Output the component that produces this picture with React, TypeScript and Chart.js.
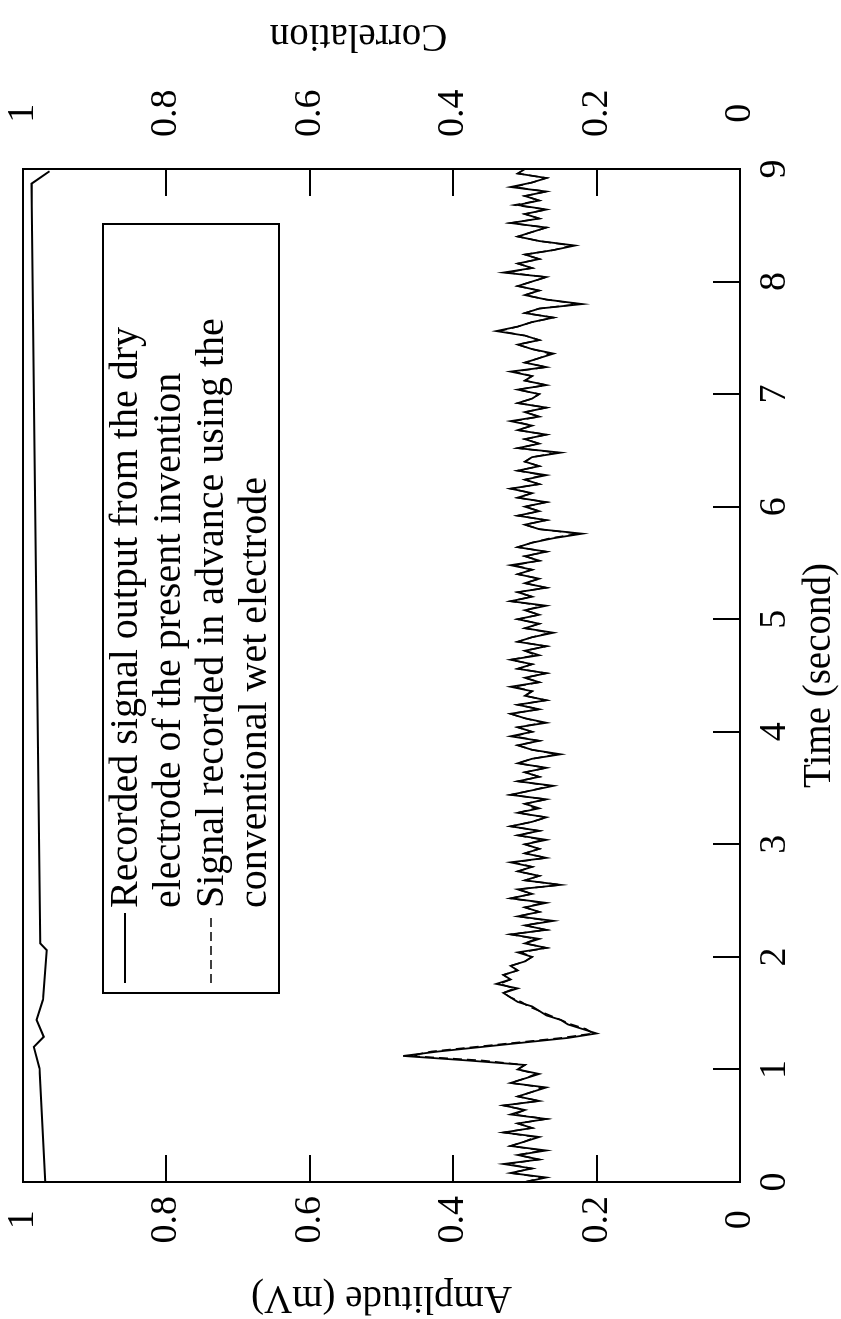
import { useEffect, useRef } from "react";
import { Chart, registerables } from "chart.js";

Chart.register(...registerables);

const FONT = '"Liberation Serif", "Times New Roman", serif';

// seconds between successive samples of both recorded signals
const SAMPLE_STEP = 0.04;

// Recorded signal output from the dry electrode (mV), one row per second
const DRY_SIGNAL = [
  0.30, 0.27, 0.32, 0.29, 0.33, 0.28, 0.31, 0.27, 0.32, 0.30, 0.28, 0.33, 0.29, 0.31, 0.27, 0.32, 0.30, 0.33, 0.28, 0.31, 0.29, 0.27, 0.32, 0.30, 0.28,
  0.31, 0.30, 0.38, 0.47, 0.42, 0.36, 0.30, 0.24, 0.20, 0.22, 0.24, 0.25, 0.27, 0.28, 0.29, 0.31, 0.32, 0.33, 0.31, 0.34, 0.32, 0.33, 0.31, 0.32, 0.30,
  0.29, 0.31, 0.27, 0.30, 0.28, 0.32, 0.27, 0.30, 0.26, 0.31, 0.28, 0.30, 0.27, 0.32, 0.29, 0.31, 0.25, 0.30, 0.28, 0.31, 0.29, 0.32, 0.27, 0.30, 0.28,
  0.30, 0.27, 0.31, 0.28, 0.32, 0.29, 0.27, 0.31, 0.28, 0.30, 0.27, 0.32, 0.29, 0.26, 0.31, 0.28, 0.30, 0.27, 0.31, 0.29, 0.25, 0.29, 0.31, 0.28, 0.32,
  0.29, 0.31, 0.27, 0.30, 0.32, 0.28, 0.31, 0.27, 0.30, 0.29, 0.32, 0.28, 0.30, 0.27, 0.31, 0.29, 0.32, 0.28, 0.30, 0.27, 0.31, 0.29, 0.26, 0.30, 0.28,
  0.31, 0.28, 0.30, 0.27, 0.32, 0.29, 0.31, 0.27, 0.30, 0.28, 0.31, 0.29, 0.32, 0.28, 0.30, 0.27, 0.31, 0.29, 0.26, 0.22, 0.28, 0.30, 0.27, 0.31, 0.28,
  0.30, 0.27, 0.31, 0.29, 0.32, 0.28, 0.30, 0.27, 0.31, 0.28, 0.30, 0.29, 0.25, 0.31, 0.28, 0.30, 0.27, 0.31, 0.29, 0.32, 0.28, 0.30, 0.27, 0.31, 0.29,
  0.28, 0.31, 0.27, 0.30, 0.29, 0.32, 0.27, 0.30, 0.28, 0.26, 0.29, 0.31, 0.28, 0.30, 0.34, 0.31, 0.29, 0.26, 0.30, 0.28, 0.22, 0.27, 0.30, 0.28, 0.31,
  0.29, 0.27, 0.33, 0.29, 0.31, 0.28, 0.30, 0.26, 0.23, 0.28, 0.31, 0.29, 0.27, 0.32, 0.28, 0.30, 0.27, 0.31, 0.28, 0.30, 0.27, 0.32, 0.29, 0.27, 0.31,
  0.30,
];

// Signal recorded in advance using the conventional wet electrode (mV)
const WET_SIGNAL = [
  0.30, 0.275, 0.32, 0.29, 0.325, 0.28, 0.31, 0.275, 0.32, 0.30, 0.285, 0.33, 0.29, 0.31, 0.27, 0.315, 0.30, 0.33, 0.28, 0.31, 0.29, 0.275, 0.32, 0.30, 0.285,
  0.31, 0.30, 0.36, 0.46, 0.43, 0.37, 0.31, 0.25, 0.205, 0.215, 0.235, 0.25, 0.265, 0.28, 0.295, 0.305, 0.32, 0.33, 0.315, 0.335, 0.32, 0.33, 0.31, 0.32, 0.30,
  0.29, 0.305, 0.27, 0.30, 0.285, 0.32, 0.27, 0.30, 0.265, 0.31, 0.28, 0.30, 0.275, 0.32, 0.29, 0.31, 0.25, 0.30, 0.28, 0.31, 0.29, 0.315, 0.27, 0.30, 0.28,
  0.30, 0.275, 0.31, 0.28, 0.32, 0.29, 0.27, 0.31, 0.285, 0.30, 0.27, 0.32, 0.29, 0.265, 0.31, 0.28, 0.30, 0.27, 0.31, 0.29, 0.255, 0.29, 0.31, 0.28, 0.315,
  0.29, 0.31, 0.275, 0.30, 0.32, 0.28, 0.31, 0.27, 0.30, 0.29, 0.315, 0.28, 0.30, 0.27, 0.31, 0.29, 0.32, 0.285, 0.30, 0.27, 0.31, 0.29, 0.265, 0.30, 0.28,
  0.31, 0.28, 0.30, 0.275, 0.32, 0.29, 0.31, 0.27, 0.30, 0.28, 0.31, 0.29, 0.315, 0.28, 0.30, 0.27, 0.31, 0.29, 0.265, 0.225, 0.28, 0.30, 0.27, 0.31, 0.28,
  0.30, 0.27, 0.31, 0.29, 0.32, 0.28, 0.30, 0.275, 0.31, 0.28, 0.30, 0.29, 0.255, 0.31, 0.28, 0.30, 0.27, 0.31, 0.29, 0.315, 0.28, 0.30, 0.27, 0.31, 0.29,
  0.28, 0.31, 0.27, 0.30, 0.29, 0.315, 0.27, 0.30, 0.28, 0.265, 0.29, 0.31, 0.28, 0.30, 0.335, 0.31, 0.29, 0.26, 0.30, 0.28, 0.225, 0.27, 0.30, 0.28, 0.31,
  0.29, 0.27, 0.325, 0.29, 0.31, 0.28, 0.30, 0.26, 0.235, 0.28, 0.31, 0.29, 0.27, 0.32, 0.28, 0.30, 0.27, 0.315, 0.28, 0.30, 0.27, 0.315, 0.29, 0.27, 0.31,
  0.30,
];

// Correlation curve (right axis)
const CORR_TIME = [0, 1.01, 1.2, 1.29, 1.44, 1.62, 2.06, 2.12, 6.5, 8.87, 8.98];
const CORR_VALUE = [0.969, 0.977, 0.985, 0.971, 0.981, 0.972, 0.967, 0.976, 0.984, 0.988, 0.963];

const LEGEND_DRY = ["Recorded signal output from the dry", "electrode of the present invention"];
const LEGEND_WET = ["Signal recorded in advance using the", "conventional wet electrode"];

const TITLE_AMPLITUDE = "Amplitude (mV)";
const TITLE_CORRELATION = "Correlation";
const TITLE_TIME = "Time (second)";

const W = 1319;
const H = 841;

const fmtTick = (v: number) => String(Math.round(v * 10) / 10);

const boxLegend = {
  id: "boxLegend",
  afterDraw(chart: any, _args: any, opts: any) {
    const { ctx, chartArea } = chart;
    const x0 = chartArea.left + opts.offsetX;
    const y0 = chartArea.top + opts.offsetY;
    ctx.save();
    ctx.strokeStyle = "#000";
    ctx.lineWidth = 2;
    ctx.setLineDash([]);
    ctx.strokeRect(x0, y0, opts.width, opts.height);
    ctx.font = `${opts.fontSize}px ${FONT}`;
    ctx.fillStyle = "#000";
    ctx.textAlign = "left";
    ctx.textBaseline = "alphabetic";
    let line = 0;
    chart.data.datasets.forEach((ds: any) => {
      const lines: string[] | undefined = ds.legendLines;
      if (!lines) return;
      const base = y0 + opts.firstBaseline + line * opts.lineGap;
      ctx.beginPath();
      ctx.setLineDash(ds.borderDash || []);
      ctx.lineWidth = ds.borderWidth;
      ctx.strokeStyle = ds.borderColor;
      ctx.moveTo(x0 + opts.sampleStart, base - opts.sampleRise);
      ctx.lineTo(x0 + opts.sampleEnd, base - opts.sampleRise);
      ctx.stroke();
      ctx.setLineDash([]);
      lines.forEach((t, i) => ctx.fillText(t, x0 + opts.textStart, base + i * opts.lineGap));
      line += lines.length;
    });
    ctx.restore();
  },
};

const flippedRightTitle = {
  id: "flippedRightTitle",
  afterDraw(chart: any, _args: any, opts: any) {
    const s = chart.scales.y2;
    const ctx = chart.ctx;
    ctx.save();
    ctx.translate(s.left + opts.offset, (s.top + s.bottom) / 2 + opts.shift);
    ctx.rotate(-Math.PI / 2);
    ctx.font = `${opts.fontSize}px ${FONT}`;
    ctx.fillStyle = "#000";
    ctx.textAlign = "center";
    ctx.textBaseline = "middle";
    ctx.fillText(opts.text, 0, 0);
    ctx.restore();
  },
};

export default function App() {
  const ref = useRef<HTMLCanvasElement | null>(null);

  useEffect(() => {
    if (!ref.current) return;
    const tickFont = { family: FONT, size: 38 };
    const titleFont = { family: FONT, size: 39, lineHeight: 1.1 };
    const grid = {
      display: true,
      drawOnChartArea: false,
      drawTicks: true,
      tickLength: -27,
      color: "#000",
      lineWidth: 2,
    };
    const border = { display: true, color: "#000", width: 2 };
    const fixV = (width: number) => (s: any) => {
      s.width = width;
      s.paddingTop = 0;
      s.paddingBottom = 0;
    };
    const fixH = (height: number) => (s: any) => {
      s.height = height;
      s.paddingLeft = 0;
      s.paddingRight = 0;
    };

    const chart = new Chart(ref.current, {
      type: "line",
      data: {
        datasets: [
          {
            label: LEGEND_DRY.join(" "),
            legendLines: LEGEND_DRY,
            data: DRY_SIGNAL.map((v, i) => ({ x: i * SAMPLE_STEP, y: v })),
            borderColor: "#000",
            borderWidth: 1.8,
            pointRadius: 0,
            tension: 0,
            yAxisID: "y",
            xAxisID: "x",
          } as any,
          {
            label: LEGEND_WET.join(" "),
            legendLines: LEGEND_WET,
            data: WET_SIGNAL.map((v, i) => ({ x: i * SAMPLE_STEP, y: v })),
            borderColor: "#000",
            borderWidth: 1.6,
            borderDash: [9, 5],
            pointRadius: 0,
            tension: 0,
            yAxisID: "y",
            xAxisID: "x",
          } as any,
          {
            label: TITLE_CORRELATION,
            data: CORR_TIME.map((t, i) => ({ x: t, y: CORR_VALUE[i] })),
            borderColor: "#000",
            borderWidth: 2,
            pointRadius: 0,
            tension: 0,
            yAxisID: "y2",
            xAxisID: "x",
          } as any,
        ],
      },
      options: {
        animation: false,
        responsive: false,
        maintainAspectRatio: false,
        layout: { padding: 0 },
        events: [],
        plugins: {
          legend: { display: false },
          tooltip: { enabled: false },
          boxLegend: {
            offsetX: 189,
            offsetY: 80,
            width: 769,
            height: 176,
            fontSize: 40,
            firstBaseline: 34,
            lineGap: 43,
            sampleStart: 10,
            sampleEnd: 80,
            sampleRise: 12,
            textStart: 85,
          },
          flippedRightTitle: { text: TITLE_CORRELATION, offset: 134, shift: -23, fontSize: 39 },
        } as any,
        scales: {
          x: {
            type: "linear",
            position: "bottom",
            min: 0,
            max: 9,
            grid,
            border,
            ticks: { stepSize: 1, font: tickFont, color: "#000", padding: 39, maxRotation: 0, autoSkip: false },
            title: { display: true, text: TITLE_TIME, font: titleFont, color: "#000", padding: 0 },
            afterFit: fixH(101),
          },
          xTop: {
            type: "linear",
            position: "top",
            min: 0,
            max: 9,
            grid: { display: true, drawOnChartArea: false, drawTicks: false, color: "#000", lineWidth: 2 },
            border,
            ticks: { display: false },
            afterFit: fixH(23),
          },
          y: {
            type: "linear",
            position: "left",
            min: 0,
            max: 1,
            grid,
            border,
            ticks: { stepSize: 0.2, font: tickFont, color: "#000", padding: 41, crossAlign: "center", callback: fmtTick },
            title: { display: true, text: TITLE_AMPLITUDE, font: titleFont, color: "#000", padding: 0 },
            afterFit: fixV(137),
          },
          y2: {
            type: "linear",
            position: "right",
            min: 0,
            max: 1,
            grid,
            border,
            ticks: { stepSize: 0.2, font: tickFont, color: "#000", padding: 59, crossAlign: "center", callback: fmtTick },
            title: { display: false, text: TITLE_CORRELATION },
            afterFit: fixV(169),
          },
        } as any,
      },
      plugins: [boxLegend, flippedRightTitle],
    } as any);

    return () => chart.destroy();
  }, []);

  return (
    <div
      style={{
        position: "fixed",
        left: 0,
        top: 0,
        width: H,
        height: W,
        overflow: "hidden",
        background: "#fff",
      }}
    >
      <div
        style={{
          position: "absolute",
          left: 0,
          top: 0,
          width: W,
          height: H,
          transformOrigin: "0 0",
          transform: `translate(0px, ${W}px) rotate(-90deg)`,
        }}
      >
        <canvas ref={ref} width={W} height={H} style={{ display: "block", width: W, height: H }} />
      </div>
    </div>
  );
}
